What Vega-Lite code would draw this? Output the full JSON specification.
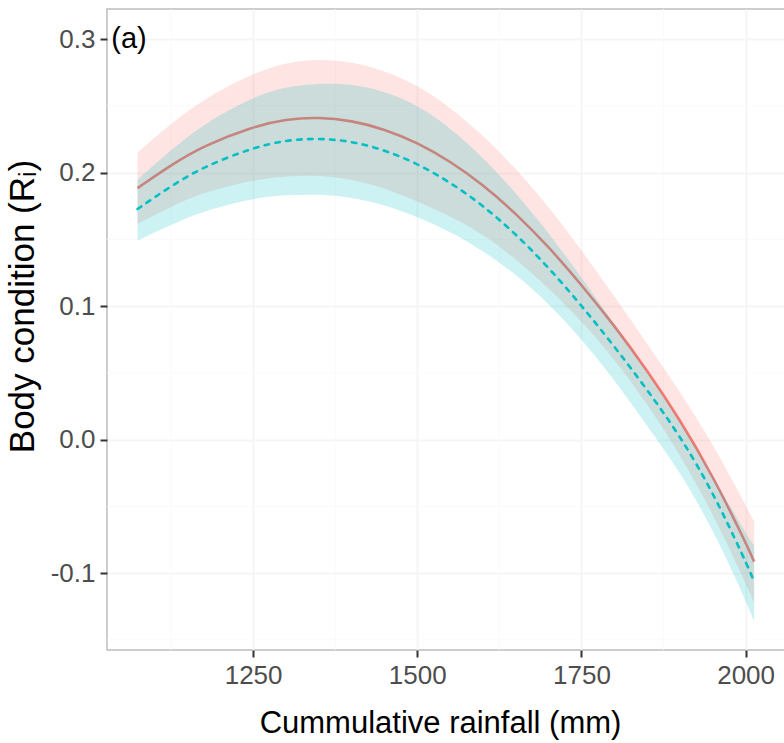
{
  "$schema": "https://vega.github.io/schema/vega-lite/v6.json",
  "width": 678,
  "height": 641,
  "autosize": {"type": "none"},
  "padding": {"left": 107, "top": 9, "right": 0, "bottom": 93},
  "background": "white",
  "config": {
    "font": "Liberation Sans",
    "view": {"stroke": "#BDBDBD", "strokeWidth": 1.5},
    "axis": {
      "domain": false,
      "grid": true,
      "gridColor": "#F5F5F5",
      "gridWidth": 2,
      "ticks": true,
      "tickColor": "#333333",
      "tickWidth": 2,
      "tickSize": 7,
      "labelFont": "Liberation Sans",
      "labelFontSize": 26,
      "labelColor": "#4D4D4D",
      "labelPadding": 5,
      "titleFont": "Liberation Sans",
      "titleFontSize": 31,
      "titleFontWeight": "normal",
      "titleColor": "#000000"
    }
  },
  "datasets": {
    "red": [
      {"x": 1074, "fit": 0.1884, "lo": 0.1616, "hi": 0.2149},
      {"x": 1125, "fit": 0.2057, "lo": 0.1747, "hi": 0.2367},
      {"x": 1175, "fit": 0.2202, "lo": 0.1852, "hi": 0.2552},
      {"x": 1250, "fit": 0.2345, "lo": 0.1945, "hi": 0.2745},
      {"x": 1300, "fit": 0.2400, "lo": 0.1975, "hi": 0.2825},
      {"x": 1350, "fit": 0.2415, "lo": 0.1980, "hi": 0.2850},
      {"x": 1400, "fit": 0.2390, "lo": 0.1950, "hi": 0.2830},
      {"x": 1450, "fit": 0.2325, "lo": 0.1885, "hi": 0.2765},
      {"x": 1500, "fit": 0.2225, "lo": 0.1785, "hi": 0.2655},
      {"x": 1550, "fit": 0.2085, "lo": 0.1675, "hi": 0.2490},
      {"x": 1600, "fit": 0.1910, "lo": 0.1540, "hi": 0.2280},
      {"x": 1650, "fit": 0.1695, "lo": 0.1355, "hi": 0.2030},
      {"x": 1700, "fit": 0.1445, "lo": 0.1135, "hi": 0.1745},
      {"x": 1750, "fit": 0.1160, "lo": 0.0890, "hi": 0.1420},
      {"x": 1800, "fit": 0.0855, "lo": 0.0605, "hi": 0.1075},
      {"x": 1850, "fit": 0.0520, "lo": 0.0270, "hi": 0.0720},
      {"x": 1900, "fit": 0.0150, "lo": -0.0110, "hi": 0.0360},
      {"x": 1950, "fit": -0.0270, "lo": -0.0550, "hi": -0.0030},
      {"x": 2000, "fit": -0.0770, "lo": -0.1070, "hi": -0.0490},
      {"x": 2013, "fit": -0.0913, "lo": -0.1223, "hi": -0.0613}
    ],
    "teal": [
      {"x": 1074, "fit": 0.1727, "lo": 0.1491, "hi": 0.1947},
      {"x": 1125, "fit": 0.1900, "lo": 0.1610, "hi": 0.2170},
      {"x": 1175, "fit": 0.2045, "lo": 0.1715, "hi": 0.2365},
      {"x": 1250, "fit": 0.2188, "lo": 0.1808, "hi": 0.2568},
      {"x": 1300, "fit": 0.2243, "lo": 0.1833, "hi": 0.2643},
      {"x": 1350, "fit": 0.2258, "lo": 0.1838, "hi": 0.2668},
      {"x": 1400, "fit": 0.2235, "lo": 0.1815, "hi": 0.2665},
      {"x": 1450, "fit": 0.2170, "lo": 0.1760, "hi": 0.2610},
      {"x": 1500, "fit": 0.2068, "lo": 0.1668, "hi": 0.2508},
      {"x": 1550, "fit": 0.1928, "lo": 0.1558, "hi": 0.2338},
      {"x": 1600, "fit": 0.1755, "lo": 0.1415, "hi": 0.2115},
      {"x": 1650, "fit": 0.1540, "lo": 0.1240, "hi": 0.1850},
      {"x": 1700, "fit": 0.1290, "lo": 0.1020, "hi": 0.1550},
      {"x": 1750, "fit": 0.1005, "lo": 0.0755, "hi": 0.1215},
      {"x": 1800, "fit": 0.0700, "lo": 0.0450, "hi": 0.0870},
      {"x": 1850, "fit": 0.0375, "lo": 0.0105, "hi": 0.0505},
      {"x": 1900, "fit": 0.0030, "lo": -0.0240, "hi": 0.0140},
      {"x": 1950, "fit": -0.0390, "lo": -0.0670, "hi": -0.0270},
      {"x": 2000, "fit": -0.0910, "lo": -0.1200, "hi": -0.0700},
      {"x": 2013, "fit": -0.1063, "lo": -0.1363, "hi": -0.0793}
    ],
    "gridx": [{"x": 1125}, {"x": 1375}, {"x": 1625}, {"x": 1875}],
    "gridy": [{"y": -0.15}, {"y": -0.05}, {"y": 0.05}, {"y": 0.15}, {"y": 0.25}],
    "panel": [{"x": 1034, "y": 0.3, "label": "(a)"}]
  },
  "layer": [
    {
      "data": {"name": "gridx"},
      "mark": {"type": "rule", "color": "#FAFAFA", "strokeWidth": 1},
      "encoding": {
        "x": {"field": "x", "type": "quantitative",
              "scale": {"domain": [1027.5, 2060], "nice": false, "zero": false},
              "axis": {"values": [1250, 1500, 1750, 2000], "format": "d", "title": "Cummulative rainfall (mm)",
                       "titleX": 333, "titleY": 73, "titleBaseline": "middle", "titleAlign": "center"}}
      }
    },
    {
      "data": {"name": "gridy"},
      "mark": {"type": "rule", "color": "#FAFAFA", "strokeWidth": 1},
      "encoding": {
        "y": {"field": "y", "type": "quantitative",
              "scale": {"domain": [-0.1575, 0.3225], "nice": false, "zero": false},
              "axis": {"values": [-0.1, 0, 0.1, 0.2, 0.3], "title": "Body condition (Rᵢ)",
                       "labelExpr": "datum.value < 0 ? '-' + format(-datum.value, '.1f') : format(datum.value, '.1f')",
                       "titleFontSize": 35,
                       "titleX": -85, "titleY": 297, "titleAngle": -90, "titleBaseline": "middle", "titleAlign": "center"}}
      }
    },
    {
      "data": {"name": "red"},
      "mark": {"type": "area", "color": "#F8766D", "opacity": 0.2, "interpolate": "basis"},
      "encoding": {
        "x": {"field": "x", "type": "quantitative", "title": "Cummulative rainfall (mm)"},
        "y": {"field": "lo", "type": "quantitative", "title": "Body condition (Rᵢ)"},
        "y2": {"field": "hi"}
      }
    },
    {
      "data": {"name": "red"},
      "mark": {"type": "line", "color": "#F8766D", "strokeWidth": 2.6, "interpolate": "basis"},
      "encoding": {
        "x": {"field": "x", "type": "quantitative", "title": "Cummulative rainfall (mm)"},
        "y": {"field": "fit", "type": "quantitative", "title": "Body condition (Rᵢ)"}
      }
    },
    {
      "data": {"name": "teal"},
      "mark": {"type": "area", "color": "#00BFC4", "opacity": 0.2, "interpolate": "basis"},
      "encoding": {
        "x": {"field": "x", "type": "quantitative", "title": "Cummulative rainfall (mm)"},
        "y": {"field": "lo", "type": "quantitative", "title": "Body condition (Rᵢ)"},
        "y2": {"field": "hi"}
      }
    },
    {
      "data": {"name": "teal"},
      "mark": {"type": "line", "color": "#00BFC4", "strokeWidth": 2.6, "strokeDash": [4.5, 6.5], "strokeCap": "round", "interpolate": "basis"},
      "encoding": {
        "x": {"field": "x", "type": "quantitative", "title": "Cummulative rainfall (mm)"},
        "y": {"field": "fit", "type": "quantitative", "title": "Body condition (Rᵢ)"}
      }
    },
    {
      "data": {"name": "panel"},
      "mark": {"type": "text", "align": "left", "baseline": "middle", "fontSize": 29, "color": "#000000", "font": "Liberation Sans"},
      "encoding": {
        "x": {"field": "x", "type": "quantitative", "title": "Cummulative rainfall (mm)"},
        "y": {"field": "y", "type": "quantitative", "title": "Body condition (Rᵢ)"},
        "text": {"field": "label"}
      }
    }
  ]
}
